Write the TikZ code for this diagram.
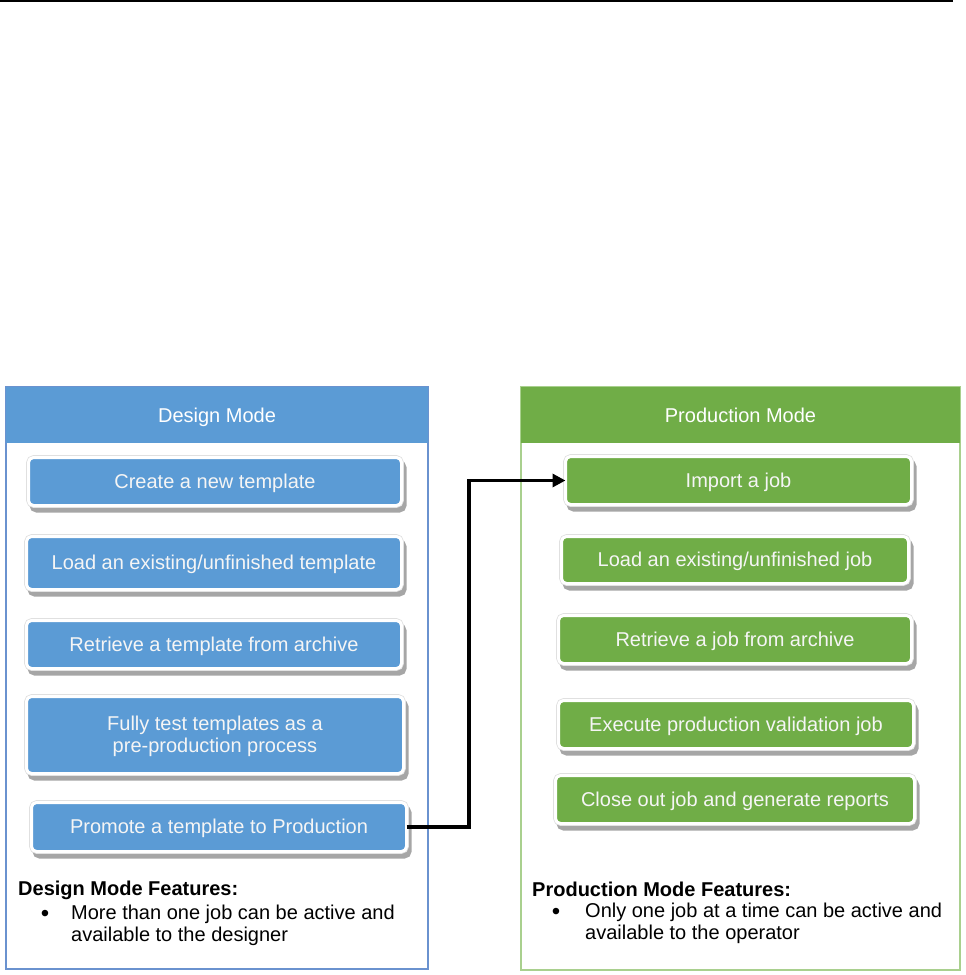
\documentclass[tikz,border=0pt]{standalone}
\usepackage{fontspec}
\setmainfont{Liberation Sans}
\usetikzlibrary{arrows.meta,calc}
\definecolor{bfill}{HTML}{5B9BD5}
\definecolor{gfill}{HTML}{70AD47}
\definecolor{bline}{HTML}{6A92CF}
\definecolor{gline}{HTML}{A9D08E}
\begin{document}
\begin{tikzpicture}[x=1pt,y=-1pt,
  txt/.style={font=\fontsize{20}{22}\selectfont},
  panel/.style={anchor=north west, inner sep=0pt, outer sep=0pt, line width=1.2pt},
  header/.style={anchor=north west, inner sep=0pt, outer sep=0pt, text=white, txt, minimum height=56pt, text depth=0pt},
  modebox/.style={rounded corners=5pt, inner sep=0pt, outer sep=0pt, text=white!96!black, txt, align=center, text depth=1pt,
    preaction={fill=black!35, draw=black!35, line width=4pt, transform canvas={xshift=3pt,yshift=-5pt}},
    preaction={draw=black!12, line width=4.6pt},
    draw=white, line width=3pt},
  bbox/.style={modebox, fill=bfill},
  gbox/.style={modebox, fill=gfill},
  conn/.style={line width=3.5pt, -{Triangle[length=13pt,width=13pt]}},
  feat/.style={txt, anchor=west, inner sep=0pt, font=\fontsize{20}{22}\selectfont\bfseries},
  item/.style={txt, anchor=north west, inner sep=0pt, align=left}
]
\useasboundingbox (0,0) rectangle (966,975);
\draw[line width=2pt] (0,1) -- (953,1);

% Design panel
\node[panel, draw=bline, minimum width=422pt, minimum height=582pt] (dpanel) at (6,387) {};
\node[header, fill=bfill, minimum width=422pt] (dhead) at (6,387) {Design Mode};
% Production panel
\node[panel, draw=gline, minimum width=439pt, minimum height=583pt] (ppanel) at (521,387) {};
\node[header, fill=gfill, minimum width=439pt] (phead) at (521,387) {Production Mode};

% Design boxes
\node[bbox, minimum width=373pt, minimum height=48pt] (L1) at (215,481.5) {Create a new template};
\node[bbox, minimum width=375pt, minimum height=53pt] (L2) at (214,563) {Load an existing/unfinished template};
\node[bbox, minimum width=375pt, minimum height=48pt] (L3) at (214,644.5) {Retrieve a template from archive};
\node[bbox, minimum width=377pt, minimum height=77pt] (L4) at (215,735) {Fully test templates as a\\pre-production process};
\node[bbox, minimum width=375pt, minimum height=49pt] (L5) at (219,827) {Promote a template to Production};

% Production boxes
\node[gbox, minimum width=346pt, minimum height=48pt] (R1) at (738.5,480.5) {Import a job};
\node[gbox, minimum width=347pt, minimum height=47pt] (R2) at (735,560) {Load an existing/unfinished job};
\node[gbox, minimum width=353pt, minimum height=48pt] (R3) at (735,639.5) {Retrieve a job from archive};
\node[gbox, minimum width=355pt, minimum height=48pt] (R4) at (736,724.5) {Execute production validation job};
\node[gbox, minimum width=359pt, minimum height=48pt] (R5) at (735,799.5) {Close out job and generate reports};

% connector
\draw[conn] (L5.east) -- ++(62.5,0) |- (R1.west);

% features
\node[feat] (dfeat) at (18,890) {Design Mode Features:};
\node[txt, inner sep=0pt, scale=1.2] (dbul) at (45,916) {•};
\node[item] (ditem) at (71,905) {More than one job can be active and\\available to the designer};
\node[feat] (pfeat) at (532,889) {Production Mode Features:};
\node[txt, inner sep=0pt, scale=1.2] (pbul) at (556,914) {•};
\node[item] (pitem) at (585,903) {Only one job at a time can be active and\\available to the operator};
\end{tikzpicture}
\end{document}
